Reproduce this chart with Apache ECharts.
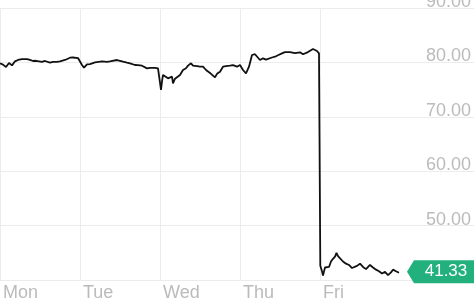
<!DOCTYPE html>
<html><head><meta charset="utf-8">
<script src="https://cdn.jsdelivr.net/npm/echarts@6/dist/echarts.min.js"></script>
<style>html,body{margin:0;padding:0;background:#fff}#c{width:474px;height:305px}</style>
</head><body><div id="c"></div>
<script>
// x unit: one trading day = 8 units (Mon starts at 0)
const days = ['Mon', 'Tue', 'Wed', 'Thu', 'Fri'];
const times = [
  0, 0.3, 0.6, 0.9, 1.2, 1.5, 1.8, 2.2, 2.7, 3.0, 3.3, 3.6, 3.8, 4.2, 4.5, 5.0, 5.3, 5.7, 6.0, 6.5,
  7.0, 7.3, 7.5, 7.8, 8.2, 8.4, 8.7, 9.0, 9.2, 9.5, 9.7, 10.2, 10.3, 10.7, 11.0, 11.2, 11.7, 12.0, 12.3, 12.7,
  13.0, 13.5, 13.8, 14.2, 14.7, 15.0, 15.2, 15.5, 15.8, 16.0, 16.1, 16.2, 16.3, 16.5, 16.8, 17.0, 17.2, 17.3, 17.5, 17.7,
  18.0, 18.3, 18.6, 18.8, 19.1, 19.3, 19.5, 19.9, 20.3, 20.6, 20.8, 21.1, 21.3, 21.5, 21.7, 22.0, 22.3, 22.6, 23.0, 23.3,
  23.5, 23.7, 24.0, 24.3, 24.6, 24.9, 25.2, 25.5, 25.7, 26.0, 26.3, 26.6, 26.8, 27.2, 27.5, 27.9, 28.2, 28.5, 28.7, 29.0,
  29.2, 29.5, 29.7, 30.0, 30.3, 30.5, 30.8, 31.0, 31.3, 31.5, 31.7, 31.9, 32.0,
  32.03, 32.2, 32.3, 32.5, 32.7, 32.9, 33.1, 33.3, 33.5, 33.65, 33.8, 34.0, 34.3, 34.6, 34.9, 35.2, 35.4, 35.7, 36.0, 36.3,
  36.6, 37.0, 37.3, 37.6, 37.9, 38.2, 38.5, 38.8, 39.1, 39.3, 39.6, 39.9
];
const prices = [
  79.83, 79.6, 79.15, 79.9, 79.45, 80.2, 80.45, 80.6, 80.6, 80.45, 80.26, 80.3, 80.45, 80.1, 80.26, 79.95, 80.1, 80.1, 80.2, 80.45,
  80.86, 80.9, 81.05, 80.8, 79.52, 79.03, 79.65, 79.7, 79.6, 80.0, 80.0, 80.2, 80.44, 80.1, 80.2, 80.26, 80.44, 80.3, 80.13, 79.95,
  79.83, 79.52, 79.5, 79.39, 78.9, 79.0, 79.03, 79.0, 78.9, 78.6, 74.93, 76.5, 77.7, 77.37, 77.07, 77.4, 77.37, 76.15, 77.0, 77.07,
  77.68, 78.6, 78.92, 79.4, 79.83, 79.4, 79.21, 79.25, 79.21, 78.6, 78.29, 77.9, 77.68, 77.26, 77.9, 78.29, 79.21, 79.3, 79.39, 79.5,
  79.52, 79.21, 79.52, 78.6, 77.99, 79.21, 81.36, 81.5, 81.66, 80.44, 80.75, 80.5, 80.63, 80.9, 81.05, 81.4, 81.66, 81.9, 82.1, 81.9,
  81.86, 81.7, 81.66, 81.86, 81.5, 81.49, 81.9, 82.1, 82.46, 82.2, 82.1, 81.66, 81.5,
  42.6, 41.6, 40.8, 42.3, 42.6, 42.4, 43.4, 43.9, 44.3, 45.0, 44.4, 44.2, 43.4, 43.0, 42.76, 42.2, 41.9, 42.6, 43.0, 42.4,
  42.0, 42.76, 42.3, 41.9, 41.6, 41.2, 41.5, 40.9, 41.4, 41.9, 41.6, 41.33
];
const yMin = 40, yMax = 90, yStep = 10;
const dayLen = 8, xMax = 47.4;

const lastPrice = prices[prices.length - 1];
const lastTime = times[times.length - 1];
const FONT = 'Liberation Sans';

const chart = echarts.init(document.getElementById('c'), null, { renderer: 'canvas' });
chart.setOption({
  animation: false,
  backgroundColor: '#fff',
  grid: { left: 0, right: 0, top: 8, bottom: 25, containLabel: false, outerBoundsMode: 'none' },
  xAxis: {
    type: 'value', min: 0, max: xMax, interval: dayLen,
    axisLine: { show: false }, axisTick: { show: false },
    splitLine: { show: true, lineStyle: { color: ['#ececec', '#ececec', '#ececec', '#ececec', '#ececec', 'rgba(0,0,0,0)', 'rgba(0,0,0,0)'], width: 1 } },
    axisLabel: {
      margin: 4, fontSize: 18, fontFamily: FONT, color: '#bbbbbb', align: 'left', padding: [0, 0, 0, 3],
      showMaxLabel: false,
      formatter: function (v) { const i = Math.round(v / dayLen); return (Math.abs(v - i * dayLen) < 1e-6 && i < days.length) ? days[i] : ''; }
    }
  },
  yAxis: {
    type: 'value', position: 'right', min: yMin, max: yMax, interval: yStep,
    axisLine: { show: false }, axisTick: { show: false },
    splitLine: { show: true, lineStyle: { color: '#ececec', width: 1 } },
    axisLabel: {
      inside: true, margin: 3, fontSize: 18, fontFamily: FONT, color: '#bbbbbb', verticalAlign: 'bottom', lineHeight: 12,
      showMinLabel: true, showMaxLabel: true,
      formatter: function (v) { return v === yMin ? '' : v.toFixed(2); }
    }
  },
  series: [{
    type: 'line',
    data: times.map((t, i) => [t, prices[i]]),
    showSymbol: false,
    lineStyle: { color: '#111', width: 1.8 },
    clip: false,
    markPoint: {
      symbol: 'path://M0,11.5 L7,0 L70,0 L70,23 L7,23 Z',
      symbolSize: [70, 23],
      symbolKeepAspect: false,
      symbolOffset: [43, -1],
      itemStyle: { color: '#22b07d' },
      label: { show: true, position: 'inside', offset: [4, 0], color: '#fff', fontSize: 17, fontFamily: FONT, formatter: lastPrice.toFixed(2) },
      data: [{ coord: [lastTime, lastPrice] }]
    }
  }]
});
</script></body></html>
